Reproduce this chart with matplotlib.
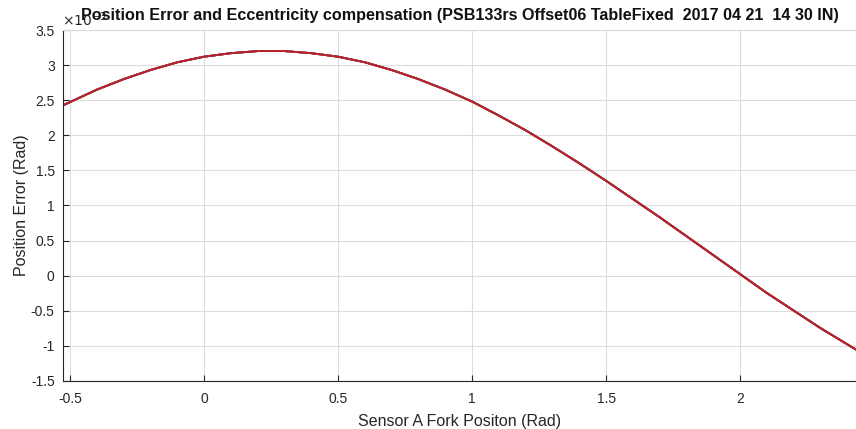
import matplotlib.pyplot as plt


# Sensor A fork position (rad) and position error (x1e-3 rad)
fork_position = [-0.53, -0.4, -0.3, -0.2, -0.1, 0.0, 0.1, 0.2, 0.3, 0.4, 0.5,
                 0.6, 0.7, 0.8, 0.9, 1.0, 1.1, 1.2, 1.3, 1.4, 1.5, 1.6, 1.7,
                 1.8, 1.9, 2.0, 2.1, 2.2, 2.3, 2.43]
position_error = [2.42, 2.65, 2.80, 2.93, 3.04, 3.12, 3.17, 3.20, 3.20, 3.17,
                  3.12, 3.04, 2.93, 2.80, 2.65, 2.48, 2.28, 2.07, 1.84, 1.60,
                  1.35, 1.09, 0.83, 0.56, 0.29, 0.02, -0.25, -0.50, -0.75,
                  -1.05]

# MATLAB default colour order; the overlapping runs share one curve
run_colors = ["#0072BD", "#D95319", "#EDB120", "#7E2F8E", "#77AC30",
              "#4DBEEE", "#A2142F", "#C0202A"]

x_ticks = [-0.5, 0, 0.5, 1, 1.5, 2]
y_ticks = [-1.5, -1, -0.5, 0, 0.5, 1, 1.5, 2, 2.5, 3, 3.5]

TITLE = ("Position Error and Eccentricity compensation "
         "(PSB133rs Offset06 TableFixed  2017 04 21  14 30 IN)")


def main() -> None:
    plt.rcParams["font.family"] = ["Liberation Sans", "DejaVu Sans"]

    fig = plt.figure(figsize=(8.56, 4.29), dpi=100)
    ax = fig.add_axes([0.0736, 0.112, 0.926, 0.818])

    y_scaled = [v * 1e-3 for v in position_error]
    for color in run_colors:
        ax.plot(fork_position, y_scaled, color=color, linewidth=1.3)

    ax.set_xlim(-0.526, 2.43)
    ax.set_ylim(-1.5e-3, 3.5e-3)
    ax.set_xticks(x_ticks)
    ax.set_xticklabels(["-0.5", "0", "0.5", "1", "1.5", "2"])
    ax.set_yticks([v * 1e-3 for v in y_ticks])
    ax.set_yticklabels(["-1.5", "-1", "-0.5", "0", "0.5", "1", "1.5", "2",
                        "2.5", "3", "3.5"])

    ax.grid(True, color="#dcdcdc", linewidth=0.8)
    ax.set_axisbelow(True)
    for side in ["left", "bottom"]:
        ax.spines[side].set_color("#262626")
    for side in ["top", "right"]:
        ax.spines[side].set_color("#dcdcdc")
    ax.tick_params(direction="in", length=4, colors="#262626",
                   labelsize=10, top=False, right=False)
    ax.tick_params(axis="x", pad=8)
    ax.tick_params(axis="y", pad=6)

    ax.set_xlabel("Sensor A Fork Positon (Rad)", fontsize=11.5,
                  color="#262626", labelpad=6)
    ax.set_ylabel("Position Error (Rad)", fontsize=11.5, color="#262626",
                  labelpad=1)

    fig.text(0.073, 0.955, r"$\times10^{-3}$", fontsize=10, color="#262626",
             ha="left", va="center")
    fig.text(0.537, 0.965, TITLE, fontsize=11.6, fontweight="bold",
             ha="center", va="center", color="#111111")

    fig.savefig("out.png", dpi=100)
    plt.close(fig)


if __name__ == "__main__":
    main()
